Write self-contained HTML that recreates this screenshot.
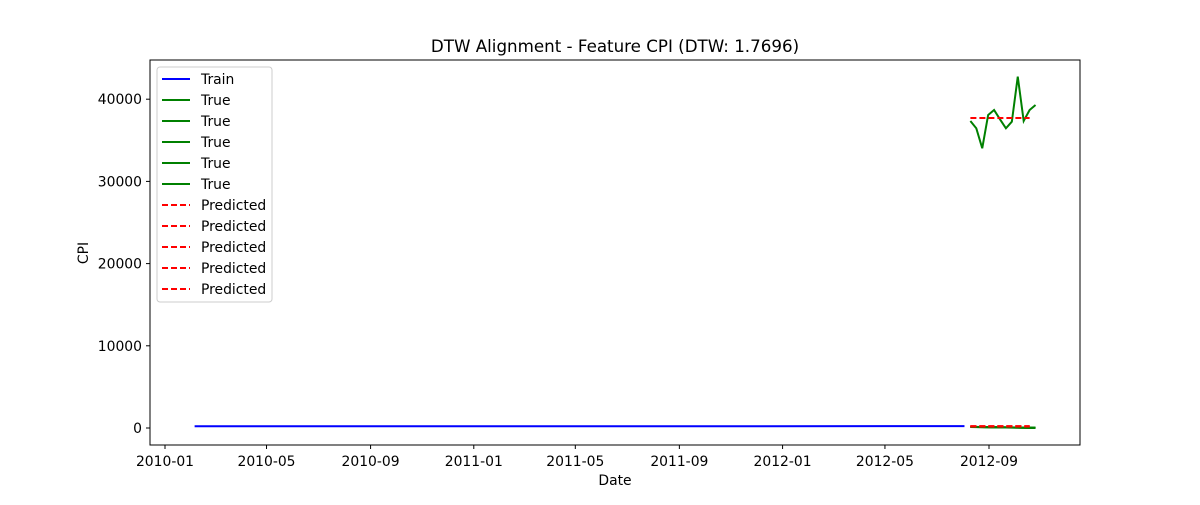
<!DOCTYPE html>
<html><head><meta charset="utf-8"><style>
body{margin:0;background:#fff}
svg text{font-family:"DejaVu Sans","Liberation Sans",sans-serif;font-size:13.9px;fill:#000}
</style></head><body>
<svg id="c" width="1200" height="500" xmlns="http://www.w3.org/2000/svg"></svg>
<script>
const yTicks=[0,10000,20000,30000,40000];
const xTickLabels=["2010-01","2010-05","2010-09","2011-01","2011-05","2011-09","2012-01","2012-05","2012-09"];
const trainDates=["2010-02-05","2012-08-03"];
const trainValues=[212,222];
const testDates=["2012-08-10","2012-08-17","2012-08-24","2012-08-31","2012-09-07","2012-09-14","2012-09-21","2012-09-28","2012-10-05","2012-10-12","2012-10-19","2012-10-26"];
const trueBig=[37350,36460,34030,38080,38690,37550,36460,37260,42740,37350,38690,39290];
const trueSmall=[120,110,100,90,80,70,60,50,40,30,20,10];
const predBig=37710;
const predSmall=[220,210,200,190,180];
const L=150,R=1080,T=60,B=445;
const ns="http://www.w3.org/2000/svg",svg=document.getElementById('c');
const d0=Date.parse("2010-01-01"),d1=Date.parse("2012-09-01");
function X(d){return 165+(Date.parse(d)-d0)/(d1-d0)*824;}
function Y(v){return 428-v*0.00822;}
function el(t,a,p){const e=document.createElementNS(ns,t);for(const k in a)e.setAttribute(k,a[k]);(p||svg).appendChild(e);return e;}
function poly(ds,vs,color,dash,name){
 const e=el('polyline',{points:ds.map((d,i)=>X(d)+','+Y(vs[i])).join(' '),fill:'none',stroke:color,'stroke-width':2,'stroke-dasharray':dash||''});
 
 
}
poly(trainDates,trainValues,'#0000ff','','train-line');
for(let k=0;k<5;k++){poly(testDates,trueSmall.map(v=>v+k*5),'#008000','','true-line-low');}
poly(testDates,trueBig,'#008000','','true-line-high');
const pd=testDates.slice(0,11);
poly(pd,pd.map(()=>predBig),'#ff0000','6,3','predicted-line-high');
predSmall.forEach(v=>poly(pd,pd.map(()=>v),'#ff0000','6,3','predicted-line-low'));
const f=el('rect',{x:L,y:T,width:R-L,height:B-T,fill:'none',stroke:'#000','stroke-width':1});

yTicks.forEach(v=>{const y=Y(v);el('line',{x1:L-4,x2:L,y1:y,y2:y,stroke:'#000'});
 const t=el('text',{x:L-8,y:y+5,'text-anchor':'end'});t.textContent=v;
 });
xTickLabels.forEach(s=>{const x=X(s+"-01");el('line',{x1:x,x2:x,y1:B,y2:B+4,stroke:'#000'});
 const t=el('text',{x:x,y:B+21,'text-anchor':'middle'});t.textContent=s;
 });
let t=el('text',{x:615,y:485,'text-anchor':'middle'});t.textContent='Date';

t=el('text',{x:88,y:253,'text-anchor':'middle',transform:'rotate(-90 88 253)'});t.textContent='CPI';

t=el('text',{x:615,y:52,'text-anchor':'middle',style:'font-size:16.7px'});t.textContent='DTW Alignment - Feature CPI (DTW: 1.7696)';

const lg=el('g',{});
el('rect',{x:157,y:67,width:115,height:235,rx:3,fill:'#fff',stroke:'#ccc'},lg);
const items=[['Train','#0000ff','']].concat(Array(5).fill(['True','#008000','']),Array(5).fill(['Predicted','#ff0000','6,3']));
items.forEach((it,i)=>{const y=79+i*21;
 el('line',{x1:162,x2:190,y1:y,y2:y,stroke:it[1],'stroke-width':2,'stroke-dasharray':it[2]},lg);
 const tt=el('text',{x:201,y:y+5},lg);tt.textContent=it[0];
 });
</script>
</body></html>
